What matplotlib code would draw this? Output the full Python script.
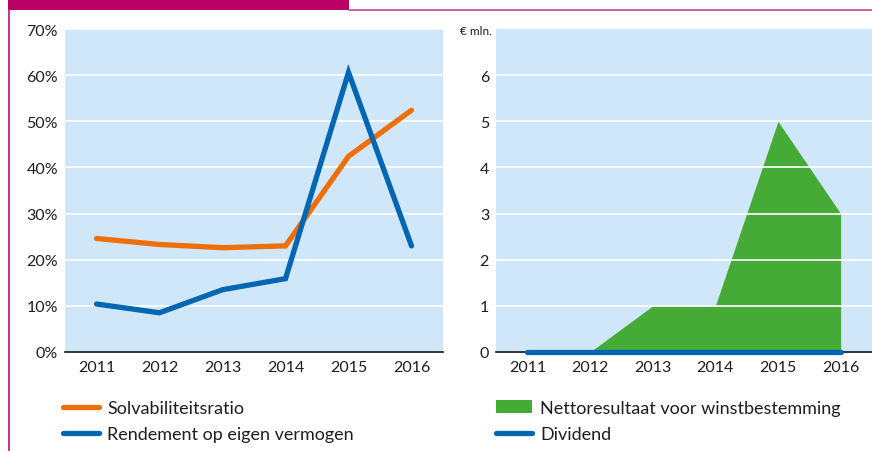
import matplotlib
matplotlib.use("Agg")
import matplotlib.pyplot as plt
from matplotlib.lines import Line2D
from matplotlib.patches import Rectangle

years = ["2011", "2012", "2013", "2014", "2015", "2016"]
solvabiliteit = [24.6, 23.3, 22.6, 23.0, 42.4, 52.4]
rendement = [10.4, 8.5, 13.5, 15.9, 60.6, 23.0]
nettoresultaat = [0, 0, 1, 1, 5, 3]
dividend = [0, 0, 0, 0, 0, 0]

pct_ticks = [0, 10, 20, 30, 40, 50, 60, 70]
pct_labels = ["0%", "10%", "20%", "30%", "40%", "50%", "60%", "70%"]
mln_ticks = [0, 1, 2, 3, 4, 5, 6]

BG = "#cfe7f9"
ORANGE = "#ee6e0a"
BLUE = "#0166b2"
GREEN = "#46aa36"
MAGENTA = "#bb0066"
TXT = "#1e1e1e"

plt.rcParams["font.family"] = ["Lato", "DejaVu Sans"]

W, H = 872, 452
fig = plt.figure(figsize=(W / 100, H / 100), dpi=100)


def fx(px):
    return px / W


def fy(py):
    return 1 - py / H


# header bar and frame lines
fig.add_artist(Rectangle((fx(8), fy(11)), fx(341), 11 / H, transform=fig.transFigure,
                         color=MAGENTA, lw=0))
fig.add_artist(Line2D([fx(349), 1], [fy(10.5), fy(10.5)], transform=fig.transFigure,
                      color="#d0509a", lw=1.3))
fig.add_artist(Line2D([fx(8.5), fx(8.5)], [fy(11), 0], transform=fig.transFigure,
                      color="#c8207e", lw=1.3))

x = list(range(len(years)))


def style_axes(ax, ymax, ticks, labels):
    ax.set_facecolor(BG)
    ax.set_xlim(-0.5, len(years) - 0.5)
    ax.set_ylim(0, ymax)
    ax.set_yticks(ticks)
    ax.set_yticklabels(labels)
    ax.set_xticks(x)
    ax.set_xticklabels(years)
    ax.tick_params(length=0, labelsize=11.5, colors=TXT)
    ax.tick_params(axis="y", pad=5)
    ax.tick_params(axis="x", pad=6)
    ax.grid(axis="y", color="white", lw=1.2, zorder=2)
    ax.set_axisbelow(False)
    for s in ["top", "right", "left"]:
        ax.spines[s].set_visible(False)
    ax.spines["bottom"].set_color("#111111")
    ax.spines["bottom"].set_linewidth(1.2)
    ax.spines["bottom"].set_zorder(3)


# left chart: percentages
ax1 = fig.add_axes([fx(65), fy(353), fx(443 - 65), (353 - 30) / H])
style_axes(ax1, 70, pct_ticks, pct_labels)
l1, = ax1.plot(x, solvabiliteit, color=ORANGE, lw=3.8, solid_capstyle="round",
               solid_joinstyle="miter", zorder=4, label="Solvabiliteitsratio")
l2, = ax1.plot(x, rendement, color=BLUE, lw=3.8, solid_capstyle="round",
               solid_joinstyle="miter", zorder=4, label="Rendement op eigen vermogen")

# right chart: € mln.
ax2 = fig.add_axes([fx(496), fy(353), fx(872 - 496), (353 - 30) / H])
style_axes(ax2, 7, mln_ticks, [str(t) for t in mln_ticks])
fill = ax2.fill_between(x, 0, nettoresultaat, color=GREEN, lw=0, zorder=1,
                        label="Nettoresultaat voor winstbestemming")
l3, = ax2.plot(x, dividend, color=BLUE, lw=3.8, solid_capstyle="round", zorder=4,
               clip_on=False, label="Dividend")
ax2.text(-0.011, 0.995, "€ mln.", transform=ax2.transAxes, ha="right", va="center",
         fontsize=8.5, color=TXT)

leg_kw = dict(loc="upper left", frameon=False, fontsize=13, handlelength=2.0,
              handletextpad=0.45, labelspacing=0.58, labelcolor=TXT, borderaxespad=0,
              borderpad=0)
leg1 = fig.legend(handles=[l1, l2], bbox_to_anchor=(fx(63), fy(401)), **leg_kw)
leg2 = fig.legend(handles=[fill, l3], bbox_to_anchor=(fx(496), fy(401)), **leg_kw)

fig.savefig("out.png", dpi=100)
